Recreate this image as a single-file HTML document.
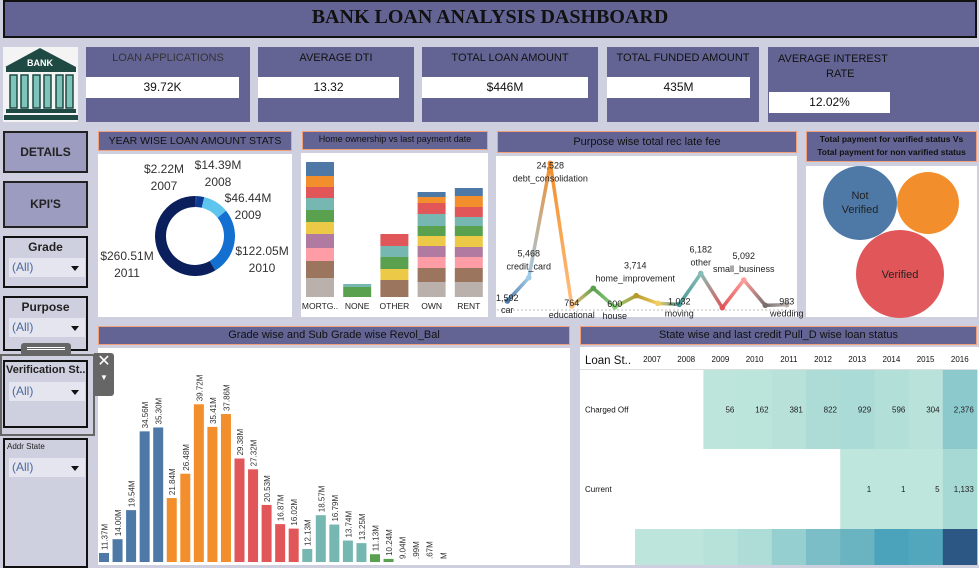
<!DOCTYPE html>
<html><head><meta charset="utf-8">
<style>
*{box-sizing:border-box;margin:0;padding:0}
body{width:979px;height:565px;background:#cfd0df;position:relative;overflow:hidden;font-family:"Liberation Sans",sans-serif;color:#222}
.abs{position:absolute}
.pur{background:#646494}
.ttl{position:absolute;background:#646494;border:1px solid #f0a07a;text-align:center;color:#111;font-size:11px;line-height:18px;white-space:nowrap;overflow:hidden}
.white{position:absolute;background:#fff}
.kpi{position:absolute;background:#646494;top:47px;height:75px}
.kpi .lab{position:absolute;top:5px;left:0;right:0;font-size:11px;color:#111;text-align:center}
.kpi .val{position:absolute;background:#fff;height:21px;font-size:12px;line-height:21px;text-align:center;color:#111}
.btn{position:absolute;left:3px;width:85px;background:#9c9cc0;border:2px solid #222;font-weight:bold;font-size:12px;text-align:center}
.flt{position:absolute;left:3px;width:85px;border:2px solid #111;background:#cfd0df}
.flt .h{font-weight:bold;font-size:12px;text-align:center;margin-top:2px;white-space:nowrap;overflow:hidden}
.sel{position:absolute;left:4px;width:76px;height:19px;background:#e4e5ee;font-size:12px;color:#4a6aa0;line-height:19px;padding-left:3px}
.sel:after{content:"";position:absolute;right:6px;top:8px;border:4px solid transparent;border-top:5px solid #111}
</style></head><body>

<div class="abs pur" style="left:3px;top:0;width:974px;height:38px;border:2px solid #111;text-align:center;font-family:'Liberation Serif',serif;font-weight:bold;font-size:20px;line-height:30px;color:#111">BANK LOAN ANALYSIS DASHBOARD</div>

<svg class="abs" style="left:3px;top:47px" width="75" height="75" viewBox="0 0 75 75">
<rect width="75" height="75" fill="#f4f4f4"/>
<polygon points="2,20 37,1 73,20" fill="#1f4a44"/>
<rect x="3" y="20" width="70" height="5" fill="#1f4a44"/>
<text x="37" y="19" font-size="9" font-weight="bold" fill="#fff" text-anchor="middle" font-family="Liberation Sans">BANK</text>
<g fill="#7fc4bb" stroke="#1f4a44" stroke-width="1.5">
<rect x="7" y="28" width="7" height="33"/><rect x="18" y="28" width="7" height="33"/><rect x="30" y="28" width="7" height="33"/><rect x="41" y="28" width="7" height="33"/><rect x="53" y="28" width="7" height="33"/><rect x="63" y="28" width="7" height="33"/></g>
<rect x="3" y="62" width="70" height="4" fill="#1f4a44"/><rect x="1" y="68" width="74" height="5" fill="#1f4a44"/>
</svg>

<div class="kpi" style="left:86px;width:164px"><div class="lab" style="color:#333">LOAN APPLICATIONS</div><div class="val" style="left:0;top:30px;width:153px">39.72K</div></div>
<div class="kpi" style="left:258px;width:156px"><div class="lab">AVERAGE DTI</div><div class="val" style="left:0;top:30px;width:141px">13.32</div></div>
<div class="kpi" style="left:422px;width:176px"><div class="lab">TOTAL LOAN AMOUNT</div><div class="val" style="left:0;top:30px;width:166px">$446M</div></div>
<div class="kpi" style="left:607px;width:152px"><div class="lab">TOTAL FUNDED AMOUNT</div><div class="val" style="left:0;top:30px;width:143px">435M</div></div>
<div class="kpi" style="left:768px;width:211px"><div class="lab" style="text-align:left;left:10px;line-height:15px">AVERAGE INTEREST<br><span style="padding-left:48px">RATE</span></div><div class="val" style="left:1px;top:45px;width:121px">12.02%</div></div>

<div class="btn" style="top:131px;height:42px;line-height:38px">DETAILS</div>
<div class="btn" style="top:181px;height:47px;line-height:43px">KPI'S</div>
<div class="flt" style="top:236px;height:52px"><div class="h">Grade</div><div class="sel" style="top:20px">(All)</div></div>
<div class="flt" style="top:296px;height:55px"><div class="h">Purpose</div><div class="sel" style="top:20px">(All)</div></div>
<div class="abs" style="left:0;top:354px;width:95px;height:82px;border:2px solid #666"></div>
<div class="abs" style="left:21px;top:343px;width:50px;height:12px;background:#666;border-radius:3px 3px 0 0"><div style="margin:4px 6px;border-top:1px solid #fff;border-bottom:1px solid #fff;height:3px"></div></div>
<div class="flt" style="top:360px;height:68px"><div class="h" style="text-align:left;padding-left:1px;font-size:11px">Verification St..</div><div class="sel" style="top:20px">(All)</div></div>
<div class="flt" style="top:438px;height:130px"><div class="h" style="text-align:left;font-size:8px;font-weight:normal;padding-left:2px">Addr State</div><div class="sel" style="top:18px">(All)</div></div>

<!-- Year wise -->
<div class="ttl" style="left:98px;top:131px;width:194px;height:20px;font-size:10.5px">YEAR WISE LOAN AMOUNT STATS</div>
<div class="white" style="left:98px;top:154px;width:194px;height:163px"></div>
<svg class="abs" id="donut" style="left:98px;top:154px" width="194" height="163"></svg>

<!-- Home ownership -->
<div class="ttl" style="left:302px;top:131px;width:186px;height:19px;font-size:9px;line-height:14px">Home ownership vs last payment date</div>
<div class="white" style="left:301px;top:153px;width:187px;height:164px"></div>
<svg class="abs" id="stack" style="left:301px;top:153px" width="187" height="164"></svg>

<!-- Purpose -->
<div class="ttl" style="left:497px;top:131px;width:300px;height:22px;line-height:20px">Purpose wise total rec late fee</div>
<div class="white" style="left:496px;top:156px;width:301px;height:161px"></div>
<svg class="abs" id="line" style="left:0;top:0" width="979" height="330"></svg>

<!-- Verified -->
<div class="ttl" style="left:806px;top:131px;width:171px;height:31px;font-size:8.5px;line-height:13px;padding-top:1px;font-weight:bold">Total payment for varified status Vs<br>Total payment for non varified status</div>
<div class="white" style="left:806px;top:166px;width:171px;height:151px"></div>
<svg class="abs" id="bubble" style="left:0;top:0" width="979" height="330"></svg>

<!-- Grade -->
<div class="ttl" style="left:98px;top:326px;width:472px;height:19px;line-height:17px">Grade wise and Sub Grade wise Revol_Bal</div>
<div class="white" style="left:98px;top:348px;width:472px;height:217px"></div>
<svg class="abs" id="grade" style="left:0;top:0" width="979" height="565"></svg>
<div class="abs" style="left:94px;top:353px;width:20px;height:43px;background:#666;border-radius:0 3px 3px 0;color:#fff;text-align:center;font-size:16px;line-height:18px">✕<div style="font-size:8px;line-height:14px">▼</div></div>

<!-- Heatmap -->
<div class="ttl" style="left:580px;top:326px;width:397px;height:19px;line-height:17px">State wise and last credit Pull_D wise loan status</div>
<div class="white" style="left:580px;top:347px;width:399px;height:218px"></div>
<svg class="abs" id="heat" style="left:0;top:0" width="979" height="565"></svg>

<script>
// ---- Donut data
const donutYears = ["2007","2008","2009","2010","2011"];
const donutValues = [2.22, 14.39, 46.44, 122.05, 260.51];
const donutLabels = ["$2.22M","$14.39M","$46.44M","$122.05M","$260.51M"];
// ---- Home ownership data
const homeCats = ["MORTG..","NONE","OTHER","OWN","RENT"];
const homeSeries = [ // bottom-up segments
 [19,17,13,14,12,12,12,11,11,14],
 [0,0,0,0,0,10,3,0,0,0],
 [0,17,0,0,11,12,11,12,0,0],
 [15,14,11,11,10,10,12,11,6,5],
 [15,14,11,10,11,10,9,10,11,8]];
// ---- Purpose data
const purposeCats = ["car","credit_card","debt_consolidation","educational","home_improvement","house","major_purchase","medical","moving","other","renewable_energy","small_business","vacation","wedding"];
const purposeValues = [1592,5468,24528,764,3714,600,2480,1200,1032,6182,480,5092,870,983];
const purposeShown = [true,true,true,true,true,true,false,false,true,true,false,true,false,true];
// ---- Verification bubbles
const bubbleCats = ["Not Verified","Source Verified","Verified"];
const bubbleValues = [1370, 960, 1940];
// ---- Grade data
const gradeValues = [11.37,14.00,19.54,34.56,35.30,21.84,26.48,39.72,35.41,37.86,29.38,27.32,20.53,16.87,16.02,12.13,18.57,16.79,13.74,13.25,11.13,10.24,9.04,8.99,8.67,8.1];
const gradeLabels = ["11.37M","14.00M","19.54M","34.56M","35.30M","21.84M","26.48M","39.72M","35.41M","37.86M","29.38M","27.32M","20.53M","16.87M","16.02M","12.13M","18.57M","16.79M","13.74M","13.25M","11.13M","10.24M","9.04M",".99M",".67M","M"];
const gradeGroups = ["A","A","A","A","A","B","B","B","B","B","C","C","C","C","C","D","D","D","D","D","E","E","E","E","E","E"];
// ---- Heatmap data
const heatYears = ["2007","2008","2009","2010","2011","2012","2013","2014","2015","2016"];
const heatStatus = ["Charged Off","Current",""];
const heatValues = [
 [null,null,56,162,381,822,929,596,304,2376],
 [null,null,null,null,null,null,1,1,5,1133],
 [50,100,350,800,1900,4000,5600,8800,8000,16000]];
const heatShowText = [true,true,false];

const NS="http://www.w3.org/2000/svg";
function mk(p,t,a){const e=document.createElementNS(NS,t);for(const k in a)e.setAttribute(k,a[k]);p.appendChild(e);return e;}
const tab=["#4e79a7","#f28e2b","#e15759","#76b7b2","#59a14f","#edc948","#b07aa1","#ff9da7","#9c755f","#bab0ac"];

// Donut
(function(){
 const s=document.getElementById('donut');const cx=97,cy=82,R=40,r=29;
 const cols=["#1a3f8f","#0b3b94","#5ec6ee","#1370d0","#0a1f5c"];
 const tot=donutValues.reduce((a,b)=>a+b,0);let a0=0;
 donutValues.forEach((v,i)=>{const a1=a0+v/tot*2*Math.PI;
  const p=(a,rr)=>[cx+rr*Math.sin(a),cy-rr*Math.cos(a)];
  const [x0,y0]=p(a0,R),[x1,y1]=p(a1,R),[x2,y2]=p(a1,r),[x3,y3]=p(a0,r);const lg=(a1-a0)>Math.PI?1:0;
  const e=mk(s,'path',{d:`M${x0},${y0}A${R},${R} 0 ${lg} 1 ${x1},${y1}L${x2},${y2}A${r},${r} 0 ${lg} 0 ${x3},${y3}Z`,fill:cols[i]});
  
  
  a0=a1;});
 const lp=[[66,19],[120,15],[150,48],[164,101],[29,106]];
 donutYears.forEach((y,i)=>{const t=mk(s,'text',{x:lp[i][0],y:lp[i][1],'font-size':12,'text-anchor':'middle',fill:'#333'});
  
  
  mk(t,'tspan',{x:lp[i][0],dy:0}).textContent=donutLabels[i];mk(t,'tspan',{x:lp[i][0],dy:17}).textContent=y;});
})();

// Stacked bars
(function(){
 const s=document.getElementById('stack');const base=144,w=28;
 homeCats.forEach((c,i)=>{const x=5+i*37.2;let y=base;
  homeSeries[i].forEach((v,j)=>{if(!v)return;y-=v;const col=tab[9-j];
   const e=mk(s,'rect',{x:x,y:y,width:w,height:v,fill:col});
   
   });
  const t=mk(s,'text',{x:x+w/2,y:156,'font-size':8.5,'text-anchor':'middle',fill:'#222'});t.textContent=c;
  
  });
})();

// Purpose line
(function(){
 const s=document.getElementById('line');
 const cols=["#4e79a7","#a0cbe8","#f28e2b","#ffbe7d","#59a14f","#8cd17d","#b6992d","#f1ce63","#499894","#86bcb6","#e15759","#ff9d9a","#79706e","#bab0ac"];
 const X=i=>507.3+i*21.5, Y=v=>301-(v-1592)*0.006;
 const base=mk(s,'line',{x1:497,x2:796,y1:310,y2:310,stroke:'#bbb','stroke-dasharray':'2,2'});
 
 
 const defs=mk(s,'defs',{});
 for(let i=0;i<purposeValues.length-1;i++){
  const g=mk(defs,'linearGradient',{id:'g'+i,gradientUnits:'userSpaceOnUse',x1:X(i),y1:Y(purposeValues[i]),x2:X(i+1),y2:Y(purposeValues[i+1])});
  mk(g,'stop',{offset:0,'stop-color':cols[i]});mk(g,'stop',{offset:1,'stop-color':cols[i+1]});
  const l=mk(s,'line',{x1:X(i),y1:Y(purposeValues[i]),x2:X(i+1),y2:Y(purposeValues[i+1]),stroke:'url(#g'+i+')','stroke-width':3.5,'stroke-linecap':'round'});
  
  }
 purposeValues.forEach((v,i)=>{const c=mk(s,'circle',{cx:X(i),cy:Y(v),r:2.8,fill:cols[i]});
  
  
  if(!purposeShown[i])return;
  const py=Y(v);let lx=X(i),vy,ny;
  if(i===2){vy=py+5;ny=py+18;}
  else if(v<1700){vy=py;ny=py+12;}
  else {vy=py-21;ny=py-8;}
  if(i===4){lx=X(i)+42;vy=py-20;ny=py-7;}
  const t=mk(s,'text',{x:lx,y:vy,'font-size':9,'text-anchor':'middle',fill:'#222'});
  
  
  mk(t,'tspan',{x:lx,y:vy}).textContent=v.toLocaleString('en-US');
  mk(t,'tspan',{x:lx,y:ny}).textContent=purposeCats[i];
 });
})();

// Bubbles
(function(){
 const s=document.getElementById('bubble');
 const pos=[[860,203],[928,203],[900,274]],cols=["#4e79a7","#f28e2b","#e15759"];
 const k=44/Math.sqrt(bubbleValues[2]);
 bubbleCats.forEach((c,i)=>{const r=k*Math.sqrt(bubbleValues[i]);
  const e=mk(s,'circle',{cx:pos[i][0],cy:pos[i][1],r:r,fill:cols[i]});
  
  
  if(i===1)return;
  const t=mk(s,'text',{x:pos[i][0],y:pos[i][1]+(i===0?-4:4),'font-size':11,'text-anchor':'middle',fill:'#222'});
  
  
  if(i===0){mk(t,'tspan',{x:pos[i][0],dy:0}).textContent="Not";mk(t,'tspan',{x:pos[i][0],dy:14}).textContent="Verified";}
  else t.textContent=c;});
})();

// Grade bars
(function(){
 const s=document.getElementById('grade');
 const gc={A:"#4e79a7",B:"#f28e2b",C:"#e15759",D:"#76b7b2",E:"#59a14f"};
 const base=562,v0=9.65,k=5.245;
 const X=i=>99+i*13.55;
 gradeValues.forEach((v,i)=>{const h=Math.max(0,(v-v0)*k);
  const r=mk(s,'rect',{x:X(i),y:base-h,width:10,height:h,fill:gc[gradeGroups[i]]});
  
  
  const tx=X(i)+8.5,ty=base-h-3;
  const t=mk(s,'text',{x:tx,y:ty,'font-size':8,fill:'#333',transform:`rotate(-90 ${tx} ${ty})`});
  t.textContent=gradeLabels[i];
  
  });
})();

// Heatmap
(function(){
 const s=document.getElementById('heat');
 const stops=[[0,[191,230,220]],[0.15,[139,201,204]],[0.35,[106,179,193]],[0.55,[74,163,187]],[1,[44,87,132]]];
 const mx=16000;
 function col(v){const f=Math.min(1,v/mx);for(let i=1;i<stops.length;i++){if(f<=stops[i][0]){const a=stops[i-1],b=stops[i],t=(f-a[0])/(b[0]-a[0]);return 'rgb('+a[1].map((c,j)=>Math.round(c+(b[1][j]-c)*t)).join(',')+')';}}return 'rgb(44,87,132)';}
 const X=j=>635+j*34.2, rows=[370,449,529], rh=[79,80,36];
 const hd=mk(s,'text',{x:585,y:364,'font-size':11.5,fill:'#111'});hd.textContent="Loan St..";
 
 
 const ln=mk(s,'line',{x1:580,x2:977,y1:369.5,y2:369.5,stroke:'#ddd'});
 
 
 heatYears.forEach((y,j)=>{const t=mk(s,'text',{x:X(j)+17,y:362,'font-size':8,'text-anchor':'middle',fill:'#111'});t.textContent=y;
  
  });
 heatStatus.forEach((st,i)=>{
  if(st){const t=mk(s,'text',{x:585,y:rows[i]+rh[i]/2+3,'font-size':8,fill:'#111'});t.textContent=st;
   
   }
  heatValues[i].forEach((v,j)=>{if(v===null)return;
   const r=mk(s,'rect',{x:X(j),y:rows[i],width:34.6,height:rh[i],fill:col(v)});
   
   
   if(heatShowText[i]){const t=mk(s,'text',{x:X(j)+31,y:rows[i]+rh[i]/2+3,'font-size':8,'text-anchor':'end',fill:'#222'});t.textContent=v.toLocaleString('en-US');
    
    }});});
})();
</script>
</body></html>
